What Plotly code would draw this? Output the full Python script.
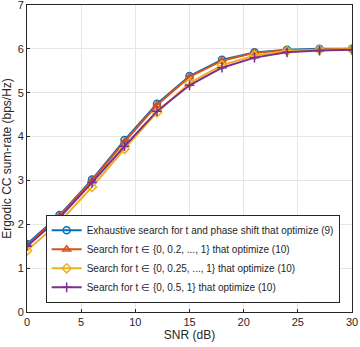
import plotly.graph_objects as go

snr_db = [0, 3, 6, 9, 12, 15, 18, 21, 24, 27, 30]
rate_exhaustive = [1.55, 2.21, 3.02, 3.92, 4.75, 5.38, 5.75, 5.92, 5.98, 6.00, 6.00]
rate_t02 = [1.52, 2.19, 3.00, 3.88, 4.72, 5.36, 5.73, 5.91, 5.97, 5.99, 6.00]
rate_t025 = [1.40, 2.05, 2.85, 3.72, 4.55, 5.22, 5.63, 5.85, 5.95, 5.98, 5.99]
rate_t05 = [1.50, 2.15, 2.95, 3.78, 4.58, 5.17, 5.57, 5.80, 5.92, 5.96, 5.98]

series = [
    ("Exhaustive search for t and phase shift that optimize (9)", rate_exhaustive, "#0072BD", "circle-open"),
    ("Search for t \u2208 {0, 0.2, ..., 1} that optimize (10)", rate_t02, "#D95319", "triangle-up-open"),
    ("Search for t \u2208 {0, 0.25, ..., 1} that optimize (10)", rate_t025, "#EDB120", "diamond-open"),
    ("Search for t \u2208 {0, 0.5, 1} that optimize (10)", rate_t05, "#7E2F8E", "cross-thin-open"),
]

fig = go.Figure()
for name, vals, color, sym in series:
    fig.add_trace(go.Scatter(
        x=snr_db, y=vals, mode="lines+markers", name=name,
        line=dict(color=color, width=2),
        marker=dict(symbol=sym, size=7, color=color, line=dict(color=color, width=1.5)),
    ))

axis_common = dict(
    showline=True, linecolor="#262626", linewidth=1, mirror=True,
    showgrid=True, gridcolor="#E6E6E6", gridwidth=1,
    ticks="inside", ticklen=3, tickcolor="#262626",
    zeroline=False, tickfont=dict(size=11, color="#262626"),
    ticklabeloverflow="allow", automargin=False,
)

fig.update_layout(
    width=360, height=347,
    margin=dict(l=27, r=8, t=5, b=35),
    paper_bgcolor="white", plot_bgcolor="white",
    font=dict(family="Liberation Sans, Arial, sans-serif", size=11, color="#262626"),
    xaxis=dict(range=[0, 30], tickvals=[0, 5, 10, 15, 20, 25, 30],
               title=dict(text="SNR (dB)", font=dict(size=12), standoff=3), **axis_common),
    yaxis=dict(range=[0, 7], tickvals=list(range(8)),
               title=dict(text="Ergodic CC sum-rate (bps/Hz)", font=dict(size=12), standoff=5), **axis_common),
    legend=dict(x=0.962, y=0.03, xanchor="right", yanchor="bottom",
                bgcolor="white", bordercolor="#262626", borderwidth=1,
                font=dict(size=10), tracegroupgap=0, itemwidth=30),
    showlegend=True,
)

# the page's default body margin would shift the figure by 8px
fig.write_html("out.html", config={"displayModeBar": False},
               post_script="document.body.style.margin='0';")
